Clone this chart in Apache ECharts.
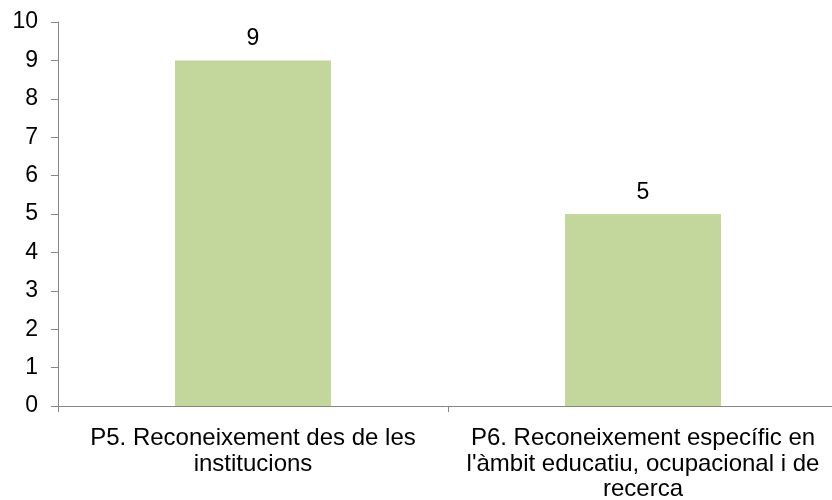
<!DOCTYPE html>
<html>
<head>
<meta charset="utf-8">
<script src="https://cdn.jsdelivr.net/npm/echarts@6/dist/echarts.min.js"></script>
<style>
  html, body { margin: 0; padding: 0; background: #fff; }
  #chart { width: 832px; height: 500px; }
</style>
</head>
<body>
<div id="chart"></div>
<script>
const categories = [
  'P5. Reconeixement des de les\ninstitucions',
  'P6. Reconeixement específic en\nl\'àmbit educatiu, ocupacional i de\nrecerca'
]
const values = [9, 5]
const yMin = 0
const yMax = 10
const yStep = 1

const axisColor = '#868686'
const font = 'Liberation Sans, Arial, sans-serif'

const chart = echarts.init(document.getElementById('chart'))
chart.setOption({
  animation: false,
  grid: {
    left: 58,
    right: -6,
    top: 22,
    bottom: 94,
    outerBoundsMode: 'none',
    containLabel: false
  },
  xAxis: {
    type: 'category',
    data: categories,
    axisLine: { lineStyle: { color: axisColor, width: 1 } },
    axisTick: { show: true, alignWithLabel: false, length: 6, lineStyle: { color: axisColor } },
    axisLabel: {
      color: '#000',
      fontFamily: font,
      fontSize: 24,
      lineHeight: 25.5,
      margin: 20,
      interval: 0
    }
  },
  yAxis: {
    type: 'value',
    min: yMin,
    max: yMax,
    interval: yStep,
    axisLine: { show: true, lineStyle: { color: axisColor, width: 1 } },
    axisTick: { show: true, length: 7, lineStyle: { color: axisColor } },
    splitLine: { show: false },
    axisLabel: {
      color: '#000',
      fontFamily: font,
      fontSize: 23,
      margin: 20
    }
  },
  series: [{
    type: 'bar',
    data: values,
    barWidth: 156,
    itemStyle: { color: '#c3d69b' },
    label: {
      show: true,
      position: 'top',
      distance: 10,
      color: '#000',
      fontFamily: font,
      fontSize: 23
    }
  }]
})
</script>
</body>
</html>
